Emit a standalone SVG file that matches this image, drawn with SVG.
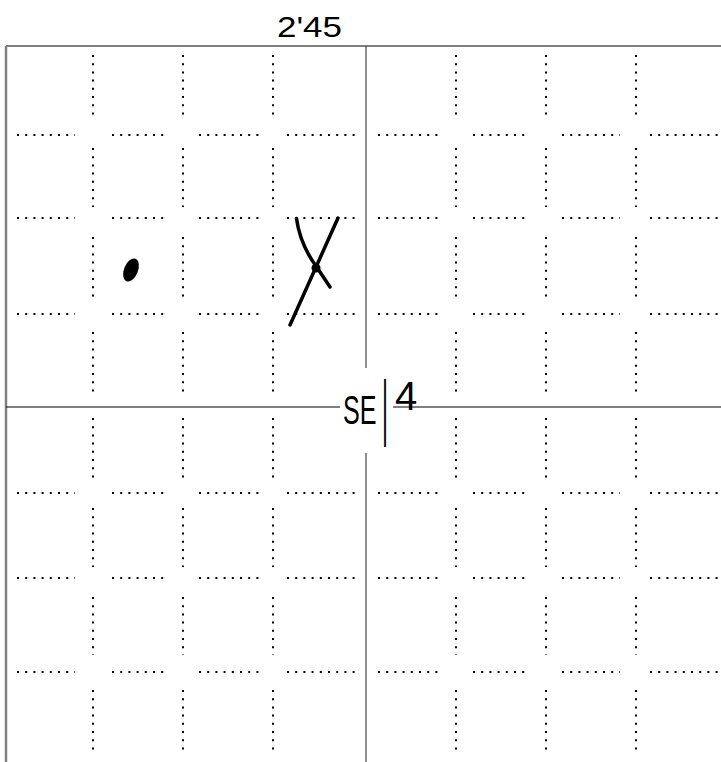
<svg xmlns="http://www.w3.org/2000/svg" width="721" height="762" viewBox="0 0 721 762">
<style>
.dots{fill:none;stroke:#000;stroke-width:2;stroke-dasharray:2 6.2}
.rule{fill:none;stroke:#000;stroke-width:1.2}
.mid{fill:none;stroke:#444;stroke-width:1.2}
.hand{font-family:"Liberation Sans",Arial,sans-serif;fill:#000}
.ink{fill:none;stroke:#000;stroke-width:3.5;stroke-linecap:round;stroke-linejoin:round}
</style>
<rect width="721" height="762" fill="#fff"/>
<g id="frame">
<line class="rule" x1="6" y1="46" x2="721" y2="46"/>
<line x1="6" y1="46" x2="6" y2="762" stroke="#808080" stroke-width="2.5"/>
<line class="mid" x1="366" y1="46" x2="366" y2="368"/>
<line class="mid" x1="366" y1="453" x2="366" y2="762"/>
<line class="rule" x1="6" y1="407" x2="340" y2="407"/>
<line class="rule" x1="393" y1="407" x2="721" y2="407"/>
</g>
<g id="dotted-rows">
<path class="dots" d="M17 135H75M112 135H164M199 135H259M287 135H357M378 135H438M473 135H527M562 135H620M650 135H721"/>
<path class="dots" d="M17 218H75M112 218H164M199 218H259M287 218H357M378 218H438M473 218H527M562 218H620M650 218H721"/>
<path class="dots" d="M17 314H75M112 314H164M199 314H259M287 314H357M378 314H438M473 314H527M562 314H620M650 314H721"/>
<path class="dots" d="M17 493H75M112 493H164M199 493H259M287 493H357M378 493H438M473 493H527M562 493H620M650 493H721"/>
<path class="dots" d="M17 578H75M112 578H164M199 578H259M287 578H357M378 578H438M473 578H527M562 578H620M650 578H721"/>
<path class="dots" d="M17 672H75M112 672H164M199 672H259M287 672H357M378 672H438M473 672H527M562 672H620M650 672H721"/>
</g>
<g id="dotted-columns">
<path class="dots" d="M93 55V120M93 148V207M93 237V298M93 332V397M93 418V479M93 508V567M93 597V655M93 690V755"/>
<path class="dots" d="M183 55V120M183 148V207M183 237V298M183 332V397M183 418V479M183 508V567M183 597V655M183 690V755"/>
<path class="dots" d="M273 55V120M273 148V207M273 237V298M273 332V397M273 418V479M273 508V567M273 597V655M273 690V755"/>
<path class="dots" d="M456 55V120M456 148V207M456 237V298M456 332V397M456 418V479M456 508V567M456 597V655M456 690V755"/>
<path class="dots" d="M546 55V120M546 148V207M546 237V298M546 332V397M546 418V479M546 508V567M546 597V655M546 690V755"/>
<path class="dots" d="M636 55V120M636 148V207M636 237V298M636 332V397M636 418V479M636 508V567M636 597V655M636 690V755"/>
</g>
<g id="dot-mark">
<ellipse cx="131" cy="270" rx="7" ry="12" transform="rotate(22 131 270)" fill="#000"/>
</g>
<g id="x-mark">
<path class="ink" d="M296.5 218.5 Q300 244 316 266 L330 287"/>
<path class="ink" d="M338 218 L290 325"/>
<circle cx="316" cy="268" r="4.5" fill="#000"/>
</g>
<g id="label-top">
<text class="hand" x="277" y="37" font-size="30" textLength="65" lengthAdjust="spacingAndGlyphs">2'45</text>
</g>
<g id="label-se4">
<text class="hand" font-size="34" transform="translate(343 424) scale(0.74 1.2)">SE</text>
<text class="hand" font-size="72" transform="translate(382 432) scale(0.32 1)">|</text>
<text class="hand" x="395" y="410" font-size="40">4</text>
</g>
</svg>
